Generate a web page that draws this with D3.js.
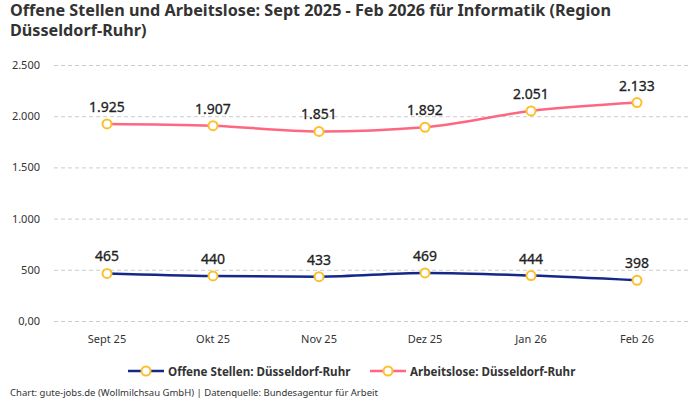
<!DOCTYPE html>
<html>
<head>
<meta charset="utf-8">
<script src="https://cdn.jsdelivr.net/npm/d3@7"></script>
<style>
  body { margin: 0; background: #fff; }
  svg { font-family: "Noto Sans", sans-serif; }
</style>
</head>
<body>
<div class="chart"></div>
<script>
const months = ["Sept 25", "Okt 25", "Nov 25", "Dez 25", "Jan 26", "Feb 26"];
const offeneStellen = [465, 440, 433, 469, 444, 398];
const arbeitslose = [1925, 1907, 1851, 1892, 2051, 2133];
const yTicks = [0, 500, 1000, 1500, 2000, 2500];

const width = 700, height = 400;
const margin = {top: 65, right: 10, bottom: 79, left: 54};

const svg = d3.select(".chart").append("svg")
  .attr("width", width)
  .attr("height", height);

svg.append("text")
  .attr("x", 10).attr("y", 16)
  .attr("font-size", 16.2).attr("font-weight", "bold").attr("fill", "#333")
  .text("Offene Stellen und Arbeitslose: Sept 2025 - Feb 2026 für Informatik (Region");
svg.append("text")
  .attr("x", 10).attr("y", 36)
  .attr("font-size", 16.2).attr("font-weight", "bold").attr("fill", "#333")
  .text("Düsseldorf-Ruhr)");

let xScale = d3.scaleBand().domain(months)
  .range([margin.left, width - margin.right]);
let yScale = d3.scaleLinear().domain([0, 2500])
  .range([height - margin.bottom, margin.top]);

const fmt = d3.formatLocale({decimal: ",", thousands: ".", grouping: [3], currency: ["", "€"]});
const f = v => v === 0 ? "0,00" : fmt.format(",")(v);

svg.append("g")
  .attr("transform", `translate(${margin.left},0)`)
  .call(d3.axisLeft(yScale).tickValues(yTicks).tickFormat(f).tickSize(0).tickPadding(14))
  .call(g => g.select(".domain").remove())
  .call(g => g.selectAll(".tick text").attr("font-size", 11).attr("fill", "#333")
    .attr("font-family", "Noto Sans").attr("text-anchor", "end").attr("x", -14))
  .call(g => g.selectAll(".tick line").clone()
    .attr("x2", width - margin.right - margin.left)
    .attr("stroke", "#ccc")
    .attr("stroke-dasharray", "4,3"));

svg.append("g")
  .attr("transform", `translate(0,${height - margin.bottom})`)
  .call(d3.axisBottom(xScale).tickSize(0).tickPadding(14))
  .call(g => g.select(".domain").remove())
  .call(g => g.selectAll(".tick text").attr("font-size", 11).attr("fill", "#333")
    .attr("font-family", "Noto Sans"));

const series = [
  {name: "Offene Stellen: Düsseldorf-Ruhr", values: offeneStellen, color: "#15288a"},
  {name: "Arbeitslose: Düsseldorf-Ruhr", values: arbeitslose, color: "#ff6680"}
];

const cx = i => xScale(months[i]) + xScale.bandwidth() / 2;
const line = d3.line()
  .x((d, i) => cx(i))
  .y(d => yScale(d))
  .curve(d3.curveMonotoneX);

series.forEach(s => {
  svg.append("path")
    .datum(s.values)
    .attr("d", line)
    .attr("fill", "none")
    .attr("stroke", s.color)
    .attr("stroke-width", 2.5);

  svg.selectAll(null)
    .data(s.values)
    .enter()
    .append("circle")
    .attr("cx", (d, i) => cx(i))
    .attr("cy", d => yScale(d))
    .attr("r", 4.5)
    .attr("fill", "#fff")
    .attr("stroke", "#fbc02d")
    .attr("stroke-width", 2);

  svg.selectAll(null)
    .data(s.values)
    .enter()
    .append("text")
    .attr("x", (d, i) => cx(i))
    .attr("y", d => yScale(d) - 12)
    .attr("text-anchor", "middle")
    .attr("font-size", 14)
    .attr("fill", "#222")
    .attr("stroke", "#222")
    .attr("stroke-width", 0.3)
    .text(d => fmt.format(",")(d));
});

const legendPos = [128, 370];
series.forEach((s, i) => {
  const g = svg.append("g").attr("transform", `translate(${legendPos[i]},371)`);
  g.append("line").attr("x1", 0).attr("x2", 36)
    .attr("stroke", s.color).attr("stroke-width", 2.5);
  g.append("circle").attr("cx", 18).attr("r", 4.5)
    .attr("fill", "#fff").attr("stroke", "#fbc02d").attr("stroke-width", 2);
  g.append("text").attr("x", 40).attr("y", 4.5)
    .attr("font-size", 11.6).attr("font-weight", "bold").attr("fill", "#333")
    .text(s.name);
});

svg.append("text")
  .attr("x", 10).attr("y", 396)
  .attr("font-size", 9.5).attr("fill", "#333")
  .text("Chart: gute-jobs.de (Wollmilchsau GmbH) | Datenquelle: Bundesagentur für Arbeit");
</script>
</body>
</html>
